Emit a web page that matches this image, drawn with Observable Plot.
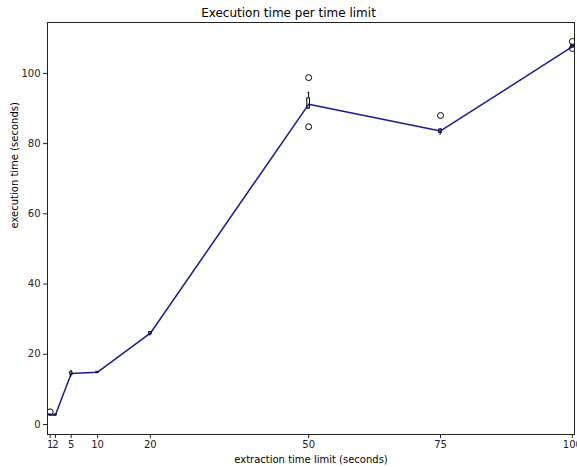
<!DOCTYPE html>
<html>
<head>
<meta charset="utf-8">
<script src="https://cdn.jsdelivr.net/npm/d3@7"></script>
<script src="https://cdn.jsdelivr.net/npm/@observablehq/plot@0.6"></script>
<style>
  body { margin: 0; background: #fff; font-family: "DejaVu Sans", sans-serif; }
  #title { width: 577px; height: 20px; text-align: center; font-size: 12px; line-height: 26px; color: #000; }
</style>
</head>
<body>
<div id="title">Execution time per time limit</div>
<div id="chart"></div>
<script>
// Time limits (seconds) used as box positions
const limits = [1, 2, 5, 10, 20, 50, 75, 100];
// Box statistics of execution time (seconds) per limit
const q1 = [2.6, 2.6, 14.2, 14.8, 25.7, 90.0, 83.0, 107.3];
const medians = [2.7, 2.7, 14.5, 14.9, 26.0, 91.2, 83.6, 107.6];
const q3 = [2.8, 2.8, 14.8, 15.0, 26.3, 92.9, 84.0, 108.0];
const whiskerLow = [2.6, 2.6, 13.8, 14.7, 25.5, 90.0, 82.7, 107.3];
const whiskerHigh = [2.9, 2.9, 15.3, 15.1, 26.5, 94.6, 84.2, 108.2];
// Outlying runs
const outlierLimit = [1, 50, 50, 75, 100, 100];
const outlierTime = [3.6, 98.8, 84.8, 88.0, 109.1, 107.1];
// Axis ticks
const xTicks = [1, 2, 5, 10, 20, 50, 75, 100];
const yTicks = [0, 20, 40, 60, 80, 100];

const halfWidth = 0.25;
const boxes = limits.map((x, i) => ({
  x, q1: q1[i], med: medians[i], q3: q3[i], lo: whiskerLow[i], hi: whiskerHigh[i]
}));
const outliers = outlierLimit.map((x, i) => ({x, y: outlierTime[i]}));

const chart = Plot.plot({
  width: 577,
  height: 447,
  marginLeft: 47,
  marginRight: 3,
  marginTop: 2,
  marginBottom: 33,
  style: {fontFamily: "DejaVu Sans, sans-serif", fontSize: "10px", color: "#222", background: "#fff"},
  x: {domain: [0.5, 100.4], ticks: xTicks, tickFormat: d => String(d), label: null},
  y: {domain: [-2.85, 114.5], ticks: yTicks, label: null},
  marks: [
    Plot.axisX({ticks: xTicks, tickSize: 4, tickPadding: 2, tickFormat: d => String(d), label: null}),
    Plot.axisY({ticks: yTicks, tickSize: 4, tickPadding: 3, label: null}),
    Plot.text(["extraction time limit (seconds)"], {frameAnchor: "bottom", dy: 28, fontSize: 10, fill: "#000"}),
    Plot.text(["execution time (seconds)"], {frameAnchor: "left", dx: -33, rotate: -90, fontSize: 10, fill: "#000"}),
    // whiskers and caps
    Plot.ruleX(boxes, {x: "x", y1: "q3", y2: "hi", stroke: "#000", strokeWidth: 1}),
    Plot.ruleX(boxes, {x: "x", y1: "lo", y2: "q1", stroke: "#000", strokeWidth: 1}),
    Plot.ruleY(boxes, {y: "hi", x1: d => d.x - halfWidth / 2, x2: d => d.x + halfWidth / 2, stroke: "#000"}),
    Plot.ruleY(boxes, {y: "lo", x1: d => d.x - halfWidth / 2, x2: d => d.x + halfWidth / 2, stroke: "#000"}),
    // boxes
    Plot.rect(boxes, {x1: d => d.x - halfWidth, x2: d => d.x + halfWidth, y1: "q1", y2: "q3", fill: "#fff", stroke: "#000", strokeWidth: 1}),
    Plot.ruleY(boxes, {y: "med", x1: d => d.x - halfWidth, x2: d => d.x + halfWidth, stroke: "#ff7f0e", strokeWidth: 1.2}),
    // outliers
    Plot.dot(outliers, {x: "x", y: "y", r: 3, stroke: "#000", fill: "none", strokeWidth: 1, clip: true}),
    // median trend
    Plot.line(boxes, {x: "x", y: "med", stroke: "#00008b", strokeOpacity: 0.9, strokeWidth: 1.5}),
    Plot.frame({stroke: "#222", strokeWidth: 1})
  ]
});
document.getElementById("chart").appendChild(chart);
</script>
</body>
</html>
